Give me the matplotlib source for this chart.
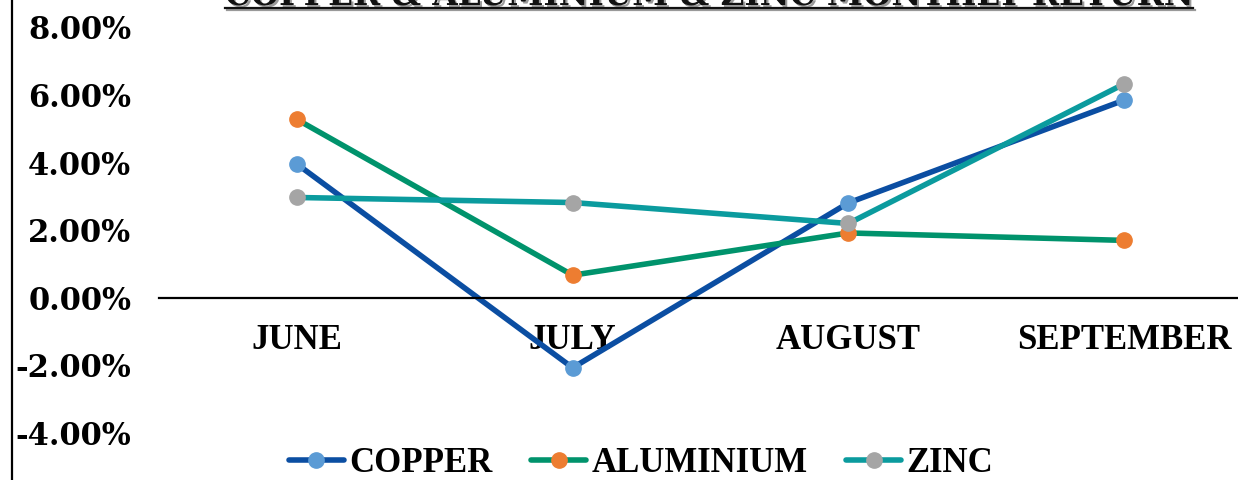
import matplotlib
matplotlib.use("Agg")
import matplotlib.pyplot as plt
import matplotlib.patheffects as pe
from matplotlib.lines import Line2D
from matplotlib.ticker import PercentFormatter

plt.rcParams["axes.unicode_minus"] = False

# Monthly returns (fractions)
months = ["JUNE", "JULY", "AUGUST", "SEPTEMBER"]
copper = [0.0396, -0.0207, 0.0281, 0.0585]
aluminium = [0.0528, 0.0067, 0.0192, 0.0170]
zinc = [0.0297, 0.0282, 0.0220, 0.0633]

series = [
    ("COPPER", copper, "#0B4EA2", "#5B9BD5"),
    ("ALUMINIUM", aluminium, "#00936C", "#ED7D31"),
    ("ZINC", zinc, "#0B9B9E", "#A5A5A5"),
]

W, H = 1238, 480
fig = plt.figure(figsize=(W / 100, H / 100), dpi=100)
ax = fig.add_axes([159 / W, (H - 433) / H, (1262 - 159) / W, (433 - 27.5) / H])

x = range(len(months))
for name, vals, lc, mc in series:
    ax.plot(x, vals, color=lc, lw=4, marker="o", ms=11,
            mfc=mc, mec=mc, label=name, solid_capstyle="round")

ax.set_xlim(-0.5, 3.5)
ax.set_ylim(-0.04, 0.08)
ax.set_yticks([-0.04, -0.02, 0, 0.02, 0.04, 0.06, 0.08])
ax.yaxis.set_major_formatter(PercentFormatter(1.0, decimals=2))
ax.set_xticks(list(x))
ax.set_xticklabels(months)

for s in ["left", "right", "top"]:
    ax.spines[s].set_visible(False)
ax.spines["bottom"].set_position(("data", 0))
ax.spines["bottom"].set_linewidth(1.6)
ax.tick_params(axis="y", length=0, pad=20)
ax.tick_params(axis="x", length=0, pad=19)
for lab in ax.get_yticklabels():
    lab.set_fontfamily("DejaVu Serif")
    lab.set_fontweight("bold")
    lab.set_fontsize(22)
for lab in ax.get_xticklabels():
    lab.set_fontfamily("Liberation Serif")
    lab.set_fontweight("bold")
    lab.set_fontsize(25)

# chart border on the left
fig.add_artist(Line2D([12 / W, 12 / W], [0, 1], color="black", lw=1.6))

# title, mostly above the visible area, underlined with a soft shadow
title = fig.text(709 / W, 1 - 5 / H, "COPPER & ALUMINIUM & ZINC MONTHLY RETURN",
                 ha="center", va="baseline", fontsize=23.5, fontweight="bold",
                 family="DejaVu Serif", color="#111111",
                 path_effects=[pe.SimplePatchShadow(offset=(1.5, -1.5), alpha=0.4),
                               pe.Normal()])
fig.canvas.draw()
bb = title.get_window_extent().transformed(fig.transFigure.inverted())
ul = Line2D([bb.x0, bb.x1], [1 - 7.5 / H, 1 - 7.5 / H], color="#111111", lw=1.6,
            path_effects=[pe.SimpleLineShadow(offset=(1.5, -1.5), alpha=0.4), pe.Normal()])
fig.add_artist(ul)

leg = fig.legend(loc="center", bbox_to_anchor=(641 / W, (H - 464) / H), ncol=3,
                 frameon=False, handlelength=1.6, handletextpad=0.15, columnspacing=1.1,
                 prop={"family": "Liberation Serif", "weight": "bold", "size": 25})

fig.savefig("out.png", dpi=100)
